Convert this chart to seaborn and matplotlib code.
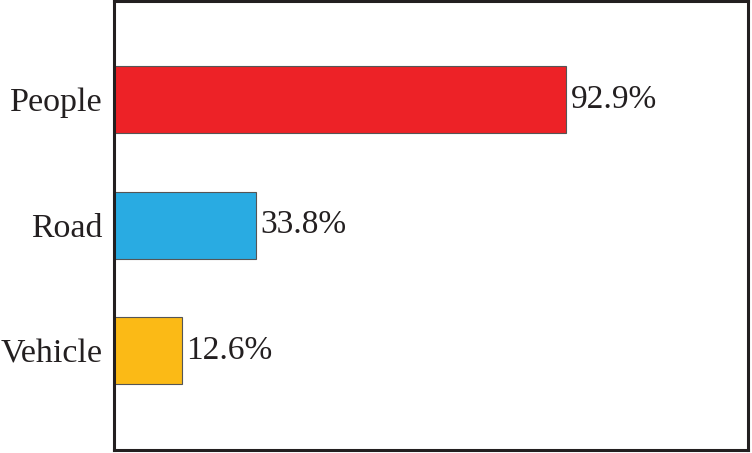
import matplotlib
matplotlib.use("Agg")
import matplotlib.pyplot as plt
import pandas as pd
import seaborn as sns

# Data
categories = ['People', 'Road', 'Vehicle']
bar_lengths = [92.9, 29.1, 13.9]          # drawn bar lengths (same scale as People)
bar_labels = ['92.9%', '33.8%', '12.6%']  # printed labels
colors = ['#ED2227', '#29ABE2', '#FBBA16']

df = pd.DataFrame({'category': categories, 'length': bar_lengths})

sns.set_style('white')
plt.rcParams['font.family'] = ['Liberation Serif', 'DejaVu Serif']

fig = plt.figure(figsize=(7.52, 4.53), dpi=100)
ax = fig.add_axes([114 / 752, 3 / 453, 633.5 / 752, 449 / 453])

sns.barplot(data=df, x='length', y='category', hue='category', palette=colors,
            orient='h', width=0.534, edgecolor='#555555', linewidth=0.8,
            saturation=1, legend=False, ax=ax)

for bar, lab in zip(ax.patches, bar_labels):
    ax.text(bar.get_width() + 1.0, bar.get_y() + bar.get_height() / 2, lab,
            va='center', ha='left', fontsize=24, color='#231F20')

ax.set_xlim(0, 130.2)
ax.set_ylim(2.79, -0.785)
ax.set_xticks([])
ax.set_xlabel('')
ax.set_ylabel('')
ax.tick_params(axis='y', length=0, pad=8, labelsize=24.5, labelcolor='#231F20')
for s in ax.spines.values():
    s.set_visible(True)
    s.set_color('#231F20')
    s.set_linewidth(2.2)

plt.savefig('out.png', dpi=100)
